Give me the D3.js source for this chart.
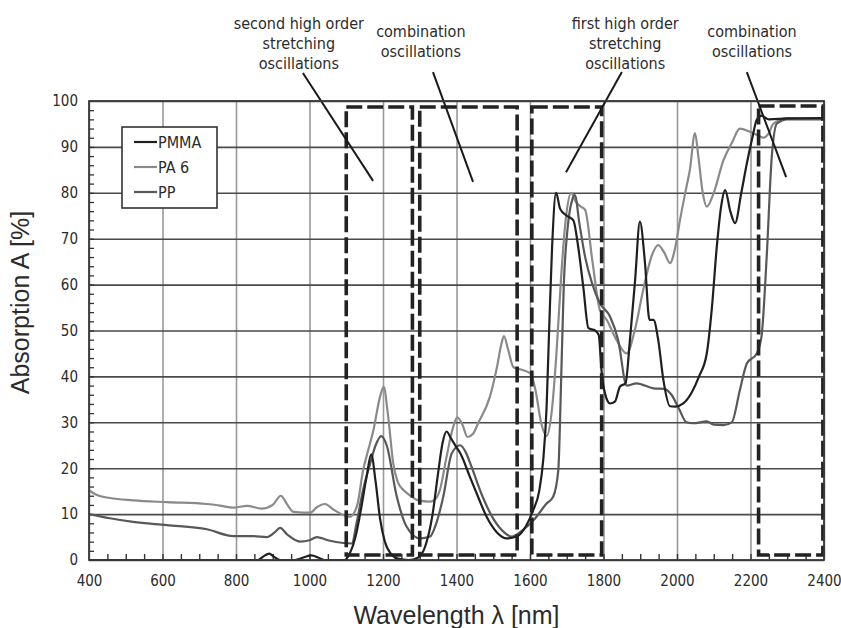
<!DOCTYPE html>
<html>
<head>
<meta charset="utf-8">
<script src="https://cdn.jsdelivr.net/npm/d3@7"></script>
<style>
    body{ margin: 0; background: #fff; }
    .tick text{ font-family: "DejaVu Sans Condensed", "DejaVu Sans", sans-serif; font-stretch: condensed; font-size: 15px; fill: #2b2b2b; }
    .note{ font-family: "DejaVu Sans Condensed", "DejaVu Sans", sans-serif; font-stretch: condensed; font-size: 16px; fill: #2b2b2b; }
    .title{ font-family: "Liberation Sans", Arial, sans-serif; font-size: 25px; fill: #2b2b2b; }
    .curve{ fill: none; stroke-width: 2.2; stroke-linejoin: round; }
</style>
</head>
<body>
<svg id="chart"></svg>
<script>
    // ---- data
    let seriesNames = ['PMMA', 'PA 6', 'PP'];
    let seriesColors = ['#1f1f1f', '#8a8a8a', '#585858'];

    let pmmaNm  = [400, 500, 600, 700, 800, 860, 875, 890, 905, 920, 960, 985, 1005, 1025, 1040, 1095, 1110, 1125, 1140, 1155, 1168, 1180, 1192, 1205, 1220, 1240, 1270, 1295, 1315, 1335, 1350, 1362, 1373, 1385, 1398, 1412, 1437, 1460, 1482, 1510, 1537, 1564, 1590, 1609, 1625, 1636, 1645, 1652, 1660, 1671, 1682, 1700, 1718, 1731, 1745, 1759, 1777, 1787, 1795, 1804, 1818, 1831, 1845, 1860, 1872, 1886, 1899, 1913, 1925, 1936, 1949, 1963, 1981, 1995, 2017, 2040, 2060, 2081, 2095, 2108, 2120, 2131, 2145, 2158, 2175, 2190, 2205, 2217, 2230, 2250, 2300, 2400];
    let pmmaAbs = [0, 0, 0, 0, 0, 0, 0.8, 1.4, 0.6, 0, 0, 0.6, 1.0, 0.5, 0, 0, 1.5, 5, 11, 18, 23, 17, 9, 4, 1.5, 0.3, 0, 0.5, 3, 10, 19, 25.5, 28, 26.5, 24.8, 23, 18, 13.5, 9.4, 6, 4.7, 5.1, 7.5, 10.9, 15, 21.8, 33, 50, 68, 80, 76.5, 75, 74, 68.3, 59.5, 50.5, 50, 49, 41, 36.3, 34.1, 34.5, 37.8, 38.5, 48, 61, 73.7, 64.6, 52.3, 52.3, 47.9, 39.2, 33.5, 33.4, 34.1, 36.5, 40, 45, 55, 68, 77, 80.6, 76, 73.4, 80, 86.4, 92, 95.9, 96.8, 96, 96.2, 96.3];

    let pa6Nm  = [400, 420, 457, 520, 612, 721, 760, 792, 830, 870, 900, 922, 940, 956, 1002, 1020, 1042, 1065, 1092, 1110, 1130, 1146, 1160, 1174, 1192, 1202, 1213, 1228, 1240, 1255, 1275, 1292, 1328, 1345, 1355, 1373, 1391, 1402, 1416, 1430, 1445, 1460, 1491, 1510, 1522, 1529, 1540, 1555, 1575, 1600, 1615, 1630, 1645, 1660, 1672, 1685, 1697, 1712, 1725, 1738, 1750, 1770, 1790, 1809, 1835, 1863, 1885, 1908, 1930, 1949, 1965, 1981, 1995, 2008, 2025, 2035, 2049, 2058, 2070, 2081, 2100, 2126, 2150, 2171, 2198, 2220, 2235, 2250, 2262, 2299, 2400];
    let pa6Abs = [15.2, 14.2, 13.5, 13, 12.6, 12.2, 11.8, 11.4, 11.8, 11.2, 12, 14, 12, 10.5, 10.3, 11.5, 12.2, 11, 9.8, 9.4, 12, 19.6, 24, 28.3, 35.6, 37.7, 32, 21, 17, 15.3, 14, 13.1, 12.7, 13.5, 15.3, 22.5, 29, 31.1, 29.5, 26.8, 27.5, 30, 35.6, 42, 47, 48.8, 46, 42, 41.5, 40.7, 37, 30, 27, 33, 45, 62, 74, 80, 78, 77, 76.3, 65, 54.5, 52.3, 48, 45, 50, 58.8, 66, 68.6, 67, 64.7, 68, 74, 81, 85, 93, 88, 80, 77, 80, 87, 91, 94, 93.3, 92.5, 92, 93, 95, 96.2, 96.2];

    let ppNm  = [400, 457, 520, 612, 721, 792, 847, 884, 905, 920, 940, 974, 1000, 1020, 1050, 1092, 1115, 1128, 1145, 1165, 1180, 1195, 1210, 1237, 1264, 1301, 1328, 1345, 1364, 1387, 1410, 1425, 1440, 1470, 1500, 1530, 1550, 1580, 1610, 1645, 1663, 1677, 1685, 1692, 1702, 1715, 1722, 1735, 1750, 1770, 1790, 1818, 1840, 1863, 1890, 1936, 1965, 1985, 2005, 2026, 2044, 2081, 2100, 2126, 2149, 2171, 2190, 2217, 2230, 2244, 2258, 2272, 2300, 2400];
    let ppAbs = [10, 9.1, 8.3, 7.6, 6.7, 5.2, 5.2, 5, 6, 7, 5.5, 4, 4.3, 5, 4.3, 3.7, 3.6, 8, 15, 21, 25, 27, 25, 14, 7.3, 4.7, 5.1, 8, 13.8, 23.2, 25, 23.5, 20.5, 14, 9, 6, 5.1, 6.5, 8.7, 12.3, 13.8, 19.6, 40, 60, 72, 78.5, 79.5, 73, 66, 60, 56, 53, 47.9, 38, 38.5, 37.4, 37.3, 36, 33, 30, 29.8, 30.2, 29.5, 29.4, 30, 37, 42.8, 45, 48.7, 66, 88, 95.1, 96, 96];

    // dashed regions [from nm, to nm, bottom %, top %]
    let regionFrom = [1100, 1300, 1605, 2222];
    let regionTo   = [1280, 1565, 1795, 2397];
    let regionLow  = [1.1, 1.1, 1.1, 1.1];
    let regionHigh = [98.7, 98.7, 98.7, 98.9];

    // annotations: text lines, text centre (nm), leader line from/to (nm, %)
    let noteLines = [
        ['second high order', 'stretching', 'oscillations'],
        ['combination', 'oscillations'],
        ['first high order', 'stretching', 'oscillations'],
        ['combination', 'oscillations']
    ];
    let noteCenter = [971, 1303, 1859, 2204];
    let leaderFrom = [[982, 106.1], [1336, 106.3], [1850, 106.3], [2190, 106.3]];
    let leaderTo   = [[1173, 82.6], [1445, 82.4], [1698, 84.5], [2297, 83.4]];

    let xTicks = [400, 600, 800, 1000, 1200, 1400, 1600, 1800, 2000, 2200, 2400];
    let yTicks = [0, 10, 20, 30, 40, 50, 60, 70, 80, 90, 100];

    function getConfig(){
        let width = 841;
        let height = 628;
        let margin = { top: 101, bottom: 68, left: 89, right: 17 };
        let bodyWidth = width - margin.left - margin.right;
        let bodyHeight = height - margin.top - margin.bottom;
        let container = d3.select('#chart')
            .attr('width', width)
            .attr('height', height);
        return { width, height, margin, bodyWidth, bodyHeight, container };
    }

    function getScales(config){
        let xScale = d3.scaleLinear()
            .domain([400, 2400])
            .range([0, config.bodyWidth]);
        let yScale = d3.scaleLinear()
            .domain([0, 100])
            .range([config.bodyHeight, 0]);
        return { xScale, yScale };
    }

    function drawGrid(scales, config){
        let {xScale, yScale} = scales;
        let {container, margin, bodyWidth, bodyHeight} = config;
        let body = container.append('g')
            .attr('transform', `translate(${margin.left},${margin.top})`);

        // vertical grid lines (lighter)
        body.append('g')
            .attr('transform', `translate(0,${bodyHeight})`)
            .call(d3.axisBottom(xScale).tickValues(xTicks).tickSize(-bodyHeight).tickFormat(''))
            .call(g => g.select('.domain').remove())
            .selectAll('line').attr('stroke', '#9a9a9a').attr('stroke-width', 1.6);

        // horizontal grid lines (darker)
        body.append('g')
            .call(d3.axisLeft(yScale).tickValues(yTicks).tickSize(-bodyWidth).tickFormat(''))
            .call(g => g.select('.domain').remove())
            .selectAll('line').attr('stroke', '#4a4a4a').attr('stroke-width', 1.6);

        // minor ticks
        body.append('g')
            .attr('transform', `translate(0,${bodyHeight})`)
            .call(d3.axisBottom(xScale).tickValues(d3.range(450, 2400, 50)).tickSize(-6).tickFormat(''))
            .call(g => g.select('.domain').remove())
            .selectAll('line').attr('stroke', '#333').attr('stroke-width', 1.4);
        body.append('g')
            .call(d3.axisLeft(yScale).tickValues(d3.range(2, 100, 2)).tickSize(-5).tickFormat(''))
            .call(g => g.select('.domain').remove())
            .selectAll('line').attr('stroke', '#333').attr('stroke-width', 1.3);
        return body;
    }

    function drawAxes(scales, config){
        let {xScale, yScale} = scales;
        let {container, margin, bodyWidth, bodyHeight} = config;

        let axisX = d3.axisBottom(xScale).tickValues(xTicks).tickSize(0).tickPadding(15)
            .tickFormat(d3.format('d'));
        container.append('g')
            .attr('transform', `translate(${margin.left},${margin.top + bodyHeight})`)
            .call(axisX)
            .call(g => g.select('.domain').remove());

        let axisY = d3.axisLeft(yScale).tickValues(yTicks).tickSize(0).tickPadding(11);
        container.append('g')
            .attr('transform', `translate(${margin.left},${margin.top})`)
            .call(axisY)
            .call(g => g.select('.domain').remove());

        // frame
        container.append('rect')
            .attr('x', margin.left).attr('y', margin.top)
            .attr('width', bodyWidth).attr('height', bodyHeight)
            .attr('fill', 'none').attr('stroke', '#3a3a3a').attr('stroke-width', 1.8);

        container.append('text')
            .attr('class', 'title')
            .attr('x', margin.left + bodyWidth / 2)
            .attr('y', 624)
            .attr('text-anchor', 'middle')
            .text('Wavelength λ [nm]');

        container.append('text')
            .attr('class', 'title')
            .attr('transform', `translate(29,${margin.top + bodyHeight / 2 - 28}) rotate(-90)`)
            .attr('text-anchor', 'middle')
            .text('Absorption A [%]');
    }

    function drawCurves(body, scales){
        let {xScale, yScale} = scales;
        let series = [
            { name: seriesNames[0], color: seriesColors[0], nm: pmmaNm, abs: pmmaAbs },
            { name: seriesNames[1], color: seriesColors[1], nm: pa6Nm, abs: pa6Abs },
            { name: seriesNames[2], color: seriesColors[2], nm: ppNm, abs: ppAbs }
        ];
        let line = d3.line()
            .x(d => xScale(d[0]))
            .y(d => yScale(d[1]))
            .curve(d3.curveMonotoneX);
        // draw PA 6 first, then PP, PMMA on top
        [1, 2, 0].forEach(i => {
            let s = series[i];
            body.append('path')
                .datum(d3.zip(s.nm, s.abs))
                .attr('class', 'curve')
                .attr('stroke', s.color)
                .attr('d', line);
        });
    }

    function drawRegions(body, scales){
        let {xScale, yScale} = scales;
        body.selectAll('.region')
            .data(regionFrom.map((f, i) => [f, regionTo[i], regionLow[i], regionHigh[i]]))
            .enter().append('rect')
            .attr('class', 'region')
            .attr('x', d => xScale(d[0]))
            .attr('y', d => yScale(d[3]))
            .attr('width', d => xScale(d[1]) - xScale(d[0]))
            .attr('height', d => yScale(d[2]) - yScale(d[3]))
            .attr('fill', 'none')
            .attr('stroke', '#222')
            .attr('stroke-width', 3.6)
            .attr('stroke-dasharray', '16,5');
    }

    function drawNotes(body, scales){
        let {xScale, yScale} = scales;
        noteLines.forEach((lines, i) => {
            let top = lines.length === 3 ? -72 : -64;
            let t = body.append('text')
                .attr('class', 'note')
                .attr('text-anchor', 'middle');
            lines.forEach((s, j) => {
                t.append('tspan')
                    .attr('x', xScale(noteCenter[i]))
                    .attr('y', top + j * 20)
                    .text(s);
            });
            body.append('line')
                .attr('x1', xScale(leaderFrom[i][0])).attr('y1', yScale(leaderFrom[i][1]))
                .attr('x2', xScale(leaderTo[i][0])).attr('y2', yScale(leaderTo[i][1]))
                .attr('stroke', '#1a1a1a').attr('stroke-width', 2);
        });
    }

    function drawLegend(config){
        let {container} = config;
        let g = container.append('g').attr('transform', 'translate(122,127)');
        g.append('rect')
            .attr('width', 95).attr('height', 81)
            .attr('fill', '#fff').attr('stroke', '#333').attr('stroke-width', 1.6);
        seriesNames.forEach((name, i) => {
            let y = 15 + i * 25;
            g.append('line')
                .attr('x1', 12).attr('x2', 35).attr('y1', y).attr('y2', y)
                .attr('stroke', seriesColors[i]).attr('stroke-width', 2.2);
            g.append('text')
                .attr('class', 'note')
                .attr('x', 36).attr('y', y + 6)
                .text(name);
        });
    }

    let config = getConfig();
    let scales = getScales(config);
    let body = drawGrid(scales, config);
    drawAxes(scales, config);
    drawCurves(body, scales);
    drawRegions(body, scales);
    drawNotes(body, scales);
    drawLegend(config);
</script>
</body>
</html>
